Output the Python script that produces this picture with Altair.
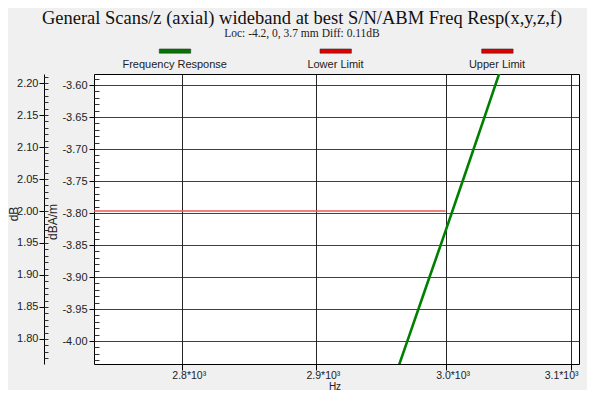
import altair as alt
import pandas as pd

# ---- data ----
resp_hz = [2955, 2970, 2985, 3000, 3015, 3030, 3050]
resp_dbam = [-4.088, -4.001, -3.914, -3.828, -3.741, -3.654, -3.538]
lower_hz = [2700, 3000]
lower_db = [2.00, 2.00]

x_ticks = [2800, 2900, 3000, 3100]
dbam_ticks = [-4.00, -3.95, -3.90, -3.85, -3.80, -3.75, -3.70, -3.65, -3.60]
db_ticks = [1.80, 1.85, 1.90, 1.95, 2.00, 2.05, 2.10, 2.15, 2.20]
dbam_minor = [round(-4.03 + 0.01 * i, 2) for i in range(45)]
db_minor = [round(1.77 + 0.01 * i, 2) for i in range(45)]

legend_names = ["Frequency Response", "Lower Limit", "Upper Limit"]
legend_colors = ["#007800", "#e00000", "#e00000"]

title_text = "General Scans/z (axial) wideband at best S/N/ABM Freq Resp(x,y,z,f)"
subtitle_text = "Loc: -4.2, 0, 3.7 mm Diff: 0.11dB"

X_DOMAIN = [2736.5, 3106.5]
DBAM_DOMAIN = [-4.0359, -3.5828]
DB_DOMAIN = [1.7609, 2.2141]

W, H = 485, 290
SANS = "Liberation Sans"
SERIF = "Liberation Serif"
TXT = "#222222"

resp = pd.DataFrame({"hz": resp_hz, "v": resp_dbam})
lower = pd.DataFrame({"hz": lower_hz, "v": lower_db})
one = pd.DataFrame({"k": [0]})

xscale = alt.Scale(type="log", domain=X_DOMAIN, nice=False)
xaxis = alt.Axis(
    values=x_ticks,
    labelExpr="format(datum.value/1000,'.1f') + '*10\u00b3'",
    grid=True, gridColor="black", gridOpacity=0.85, gridWidth=1,
    tickColor="black", tickSize=6, domain=False,
    labelFont=SANS, labelFontSize=10.5, labelColor=TXT,
    labelPadding=0, labelOffset=7, labelFlush=10, title=None,
)
X = alt.X("hz:Q", scale=xscale, axis=xaxis)

# main response line with dBA/m axis
resp_line = alt.Chart(resp).mark_line(color="#008000", strokeWidth=2.6, clip=True).encode(
    x=X,
    y=alt.Y("v:Q", scale=alt.Scale(domain=DBAM_DOMAIN, nice=False, zero=False),
            axis=alt.Axis(orient="left", values=dbam_ticks,
                          labelExpr="'-' + format(-datum.value, '.2f')",
                          grid=True, gridColor="#202020", gridOpacity=0.85,
                          tickColor="black", tickSize=5, domain=False,
                          labelFont=SANS, labelFontSize=11, labelColor=TXT,
                          labelPadding=2, title=None)),
)

# inward minor ticks of the dBA/m axis
dbam_minor_layer = alt.Chart(resp).mark_point(opacity=0).encode(
    x=X,
    y=alt.Y("v:Q", scale=alt.Scale(domain=DBAM_DOMAIN, nice=False, zero=False),
            axis=alt.Axis(orient="right", offset=-W, values=dbam_minor,
                          labels=False, grid=False, domain=False,
                          tickColor="#333333", tickSize=5, title=None)),
)

# lower limit line (drawn on the dB scale) with the dB axis
lower_line = alt.Chart(lower).mark_line(color="#f05555", strokeWidth=1.6, clip=True).encode(
    x=X,
    y=alt.Y("v:Q", scale=alt.Scale(domain=DB_DOMAIN, nice=False, zero=False),
            axis=alt.Axis(orient="left", offset=50, values=db_ticks, format=".2f",
                          grid=False, domain=True, domainColor="black",
                          tickColor="black", tickSize=5,
                          labelFont=SANS, labelFontSize=11, labelColor=TXT,
                          labelPadding=1, title=None)),
)

db_minor_layer = alt.Chart(lower).mark_point(opacity=0).encode(
    x=X,
    y=alt.Y("v:Q", scale=alt.Scale(domain=DB_DOMAIN, nice=False, zero=False),
            axis=alt.Axis(orient="right", offset=-(W + 50), values=db_minor,
                          labels=False, grid=False, domain=False,
                          tickColor="#333333", tickSize=4, title=None)),
)

# titles
title = alt.Chart(one).mark_text(font=SERIF, fontSize=18.5, color="#111111",
                                 align="center", baseline="alphabetic").encode(
    x=alt.value(208), y=alt.value(-50), text=alt.value(title_text))
subtitle = alt.Chart(one).mark_text(font=SERIF, fontSize=11.5, color="#222222",
                                    align="center", baseline="alphabetic").encode(
    x=alt.value(208), y=alt.value(-37), text=alt.value(subtitle_text))

# custom legend: swatch above label
sw_x = [65.3, 226, 387.7]
lab_x = [80.7, 241.5, 403]
legend_layers = []
for name, col, sx, lx in zip(legend_names, legend_colors, sw_x, lab_x):
    legend_layers.append(
        alt.Chart(one).mark_rect(color=col, stroke="#303030", strokeWidth=0.6).encode(
            x=alt.value(sx), x2=alt.value(sx + 31.4),
            y=alt.value(-25), y2=alt.value(-20.8)))
    legend_layers.append(
        alt.Chart(one).mark_text(font=SANS, fontSize=11, color=TXT,
                                 align="center", baseline="middle").encode(
            x=alt.value(lx), y=alt.value(-9), text=alt.value(name)))

# axis titles
db_title = alt.Chart(one).mark_text(font=SANS, fontSize=12, color=TXT, angle=270,
                                    align="center", baseline="middle").encode(
    x=alt.value(-80), y=alt.value(140), text=alt.value("dB"))
dbam_title = alt.Chart(one).mark_text(font=SANS, fontSize=12, color=TXT, angle=270,
                                      align="center", baseline="middle").encode(
    x=alt.value(-41), y=alt.value(148), text=alt.value("dBA/m"))
hz_title = alt.Chart(one).mark_text(font=SANS, fontSize=10, color=TXT,
                                    align="center", baseline="middle").encode(
    x=alt.value(241), y=alt.value(312.5), text=alt.value("Hz"))

chart = alt.layer(
    resp_line, dbam_minor_layer, lower_line, db_minor_layer,
    title, subtitle, *legend_layers, db_title, dbam_title, hz_title,
).resolve_scale(y="independent").properties(
    width=W, height=H,
    autosize=alt.AutoSizeParams(type="none"),
    padding={"left": 86, "top": 66, "right": 8, "bottom": 26},
    background="#f0f0f0",
).configure_view(fill="white", stroke="black", strokeWidth=1)

chart.save("out.html", embed_options={"renderer": "svg", "actions": False})
